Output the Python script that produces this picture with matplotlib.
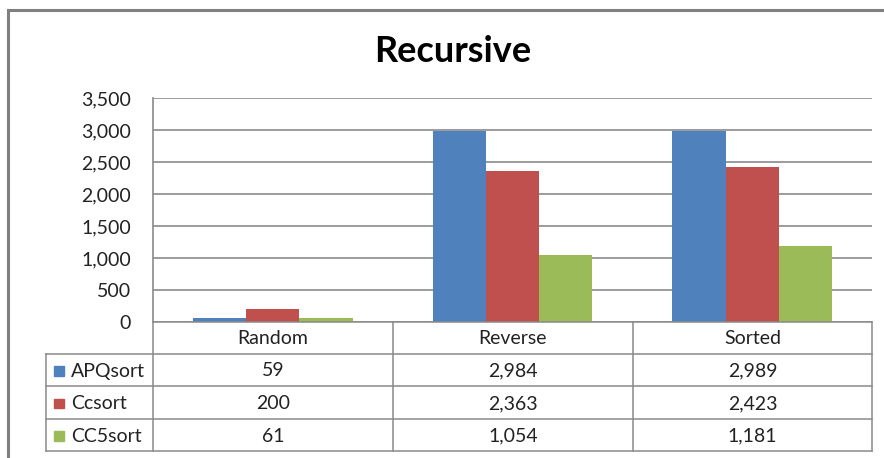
import matplotlib.pyplot as plt
import numpy as np

plt.rcParams['font.family'] = ['Lato', 'DejaVu Sans']

categories = ['Random', 'Reverse', 'Sorted']
series = ['APQsort', 'Ccsort', 'CC5sort']
apqsort = [59, 2984, 2989]
ccsort = [200, 2363, 2423]
cc5sort = [61, 1054, 1181]
colors = ['#4F81BD', '#C0504D', '#9BBB59']
grid_col = '#8a8a8a'
fs = 14

W, H = 884, 458
fig = plt.figure(figsize=(W / 100, H / 100), dpi=100)

def px(x0, y0, x1, y1):
    # pixel box -> figure fraction rect
    return [x0 / W, 1 - y1 / H, (x1 - x0) / W, (y1 - y0) / H]

ax = fig.add_axes(px(153, 98, 872, 322))
values = [apqsort, ccsort, cc5sort]
x = np.arange(len(categories))
bw = 0.222
for i, vals in enumerate(values):
    ax.bar(x + (i - 1) * bw, vals, bw, color=colors[i], zorder=3)

ax.set_xlim(-0.5, len(categories) - 0.5)
ax.set_ylim(0, 3500)
ax.set_yticks(np.arange(0, 3501, 500))
ax.set_yticklabels([f'{v:,}' for v in range(0, 3501, 500)], fontsize=fs, color='#222222')
ax.set_xticks([])
ax.tick_params(axis='y', length=0, pad=16)
ax.grid(axis='y', color=grid_col, linewidth=1.2, zorder=0)
for s in ['top', 'right', 'bottom']:
    ax.spines[s].set_visible(False)
ax.spines['left'].set_color(grid_col)
ax.spines['left'].set_linewidth(1.2)

# overlay in pixel units for title, data table and outer frame
ov = fig.add_axes([0, 0, 1, 1])
ov.set_xlim(0, W)
ov.set_ylim(H, 0)
ov.axis('off')
ov.patch.set_alpha(0)

ov.text(453, 51, 'Recursive', ha='center', va='center', fontsize=26,
        fontweight='bold', color='black')

# outer chart frame
ov.plot([8, 8, W + 5], [H + 5, 10, 10], color='#7f7f7f', lw=2.2, solid_joinstyle='miter')

col_x = [153, 393, 633, 872]
row_y = [322, 354, 386, 419, 451]
leg_x = 46
lw = 1.1
# header row
for xv in col_x:
    ov.plot([xv, xv], [row_y[0], row_y[-1]], color=grid_col, lw=lw)
for j, yv in enumerate(row_y):
    x0 = col_x[0] if j == 0 else leg_x
    ov.plot([x0, col_x[-1]], [yv, yv], color=grid_col, lw=lw)
ov.plot([leg_x, leg_x], [row_y[1], row_y[-1]], color=grid_col, lw=lw)

for c, cat in enumerate(categories):
    cx = (col_x[c] + col_x[c + 1]) / 2
    ov.text(cx, (row_y[0] + row_y[1]) / 2 + 1, cat, ha='center', va='center',
            fontsize=fs, color='#222222')

for r, name in enumerate(series):
    cy = (row_y[r + 1] + row_y[r + 2]) / 2 + 1
    ov.add_patch(plt.Rectangle((54, cy - 5), 9.5, 9.5, color=colors[r]))
    ov.text(71, cy, name, ha='left', va='center', fontsize=fs, color='#222222')
    for c in range(len(categories)):
        cx = (col_x[c] + col_x[c + 1]) / 2
        ov.text(cx, cy, f'{values[r][c]:,}', ha='center', va='center',
                fontsize=fs, color='#222222')

fig.savefig('out.png', dpi=100, facecolor='white')
